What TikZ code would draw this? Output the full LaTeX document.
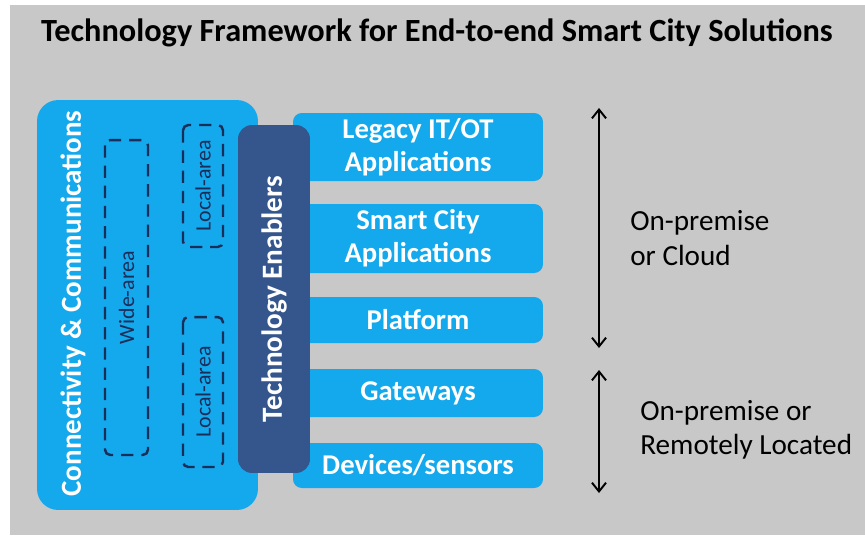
\documentclass[tikz,border=0pt]{standalone}
\usepackage{fontspec}
\setmainfont{Carlito}
\usetikzlibrary{arrows.meta}
\definecolor{skyblue}{HTML}{14A8EC}
\definecolor{navy}{HTML}{34568C}
\definecolor{dashnavy}{HTML}{1A2E5A}
\definecolor{bggray}{HTML}{C8C8C8}
\begin{document}
\begin{tikzpicture}[x=0.02cm,y=-0.02cm,>={Straight Barb[length=5pt,width=8pt]},
  layer/.style={fill=skyblue,rounded corners=5pt,inner sep=0pt,minimum width=5cm,
    text=white,font=\bfseries\fontsize{16.3}{18.7}\selectfont,align=center},
  area/.style={draw=dashnavy,line width=1.4pt,dash pattern=on 7pt off 4.5pt,
    rounded corners=3pt,rotate=90,inner sep=0pt,minimum height=0.8cm,
    text=dashnavy,font=\fontsize{12.5}{14}\selectfont},
  side/.style={align=left,anchor=west,inner sep=0pt,font=\fontsize{16.6}{19.5}\selectfont}]
\useasboundingbox (0,0) rectangle (865,535);
\fill[bggray] (10,5) rectangle (865,535);
\node[font=\bfseries\fontsize{18.4}{22}\selectfont] (title) at (437,33)
  {Technology Framework for End-to-end Smart City Solutions};
% layer boxes, right column
\foreach \nm/\y/\h/\txt in {legacy/147/1.36/{Legacy IT/OT\\Applications},
  smart/238.5/1.38/{Smart City\\Applications},platform/320/0.92/Platform,
  gateways/393/0.96/Gateways,devices/465.5/0.9/{Devices/sensors}}
  \node[layer,minimum height=\h cm] (\nm) at (418,\y) {\txt};
% connectivity block
\node[fill=skyblue,rounded corners=12pt,minimum width=4.42cm,minimum height=8.2cm,
  inner sep=0pt] (conn) at (147.5,305) {};
\node[rotate=90,text=white,font=\bfseries\fontsize{16.5}{18}\selectfont] (conntxt)
  at (73,303.5) {Connectivity \& Communications};
\node[area,minimum width=6.3cm,minimum height=0.86cm] (wide) at (126.5,297.5) {Wide-area};
\node[area,minimum width=2.44cm] (localtop) at (203,186) {Local-area};
\node[area,minimum width=3cm] (localbot) at (203,392) {Local-area};
\node[fill=navy,rounded corners=8pt,rotate=90,minimum width=6.96cm,minimum height=1.44cm,
  inner sep=0pt,text=white,font=\bfseries\fontsize{16.6}{18}\selectfont] (enablers)
  at (274,299) {Technology Enablers};
% location arrows
\coordinate (cloudtop) at (599,108);
\coordinate (cloudbot) at (599,348);
\coordinate (remotetop) at (599,370);
\coordinate (remotebot) at (599,493);
\draw[<->,line width=1.1pt] (cloudtop) -- (cloudbot);
\draw[<->,line width=1.1pt] (remotetop) -- (remotebot);
\node[side] (cloud) at (630,238) {On-premise\\or Cloud};
\node[side] (remote) at (640,430) {On-premise or\\Remotely Located};
\end{tikzpicture}
\end{document}
